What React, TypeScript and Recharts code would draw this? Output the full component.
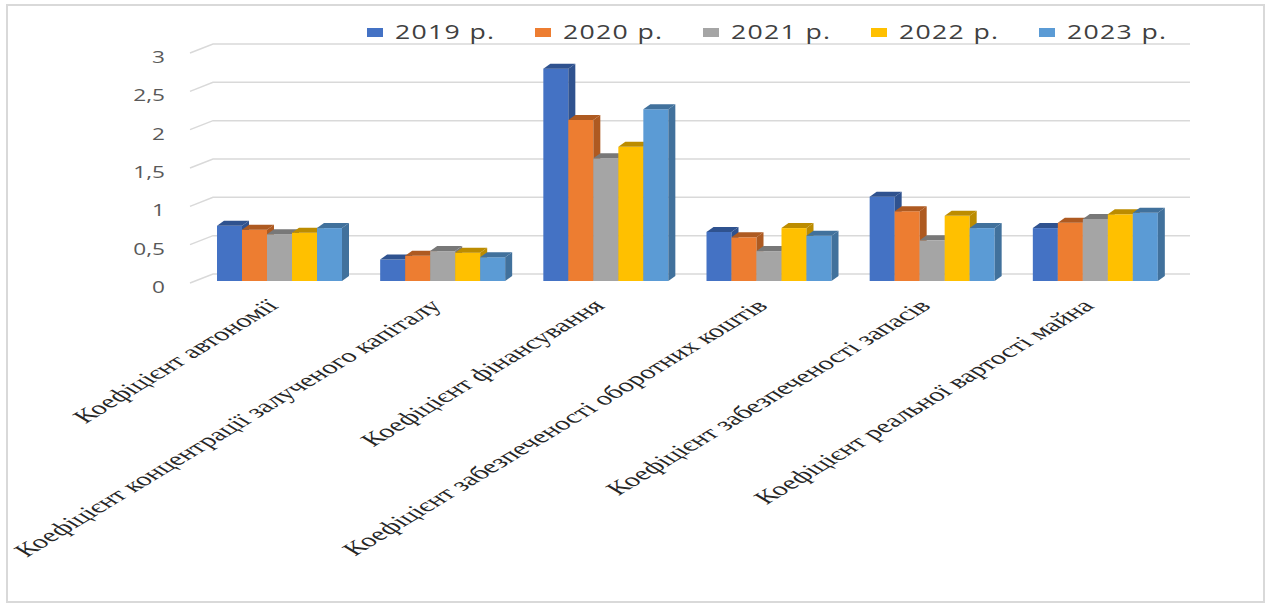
import React from "react";
import { BarChart, Bar, XAxis, YAxis, CartesianGrid, Legend } from "recharts";

// категорії та значення, зчитані з діаграми
const categories = [
  "Коефіцієнт  автономії",
  "Коефіцієнт  концентрації залученого капіталу",
  "Коефіцієнт  фінансування",
  "Коефіцієнт  забезпеченості оборотних коштів",
  "Коефіцієнт  забезпеченості запасів",
  "Коефіцієнт  реальної вартості майна",
];

const y2019 = [0.72, 0.28, 2.77, 0.64, 1.1, 0.69];
const y2020 = [0.67, 0.33, 2.1, 0.57, 0.91, 0.76];
const y2021 = [0.61, 0.39, 1.6, 0.39, 0.53, 0.81];
const y2022 = [0.63, 0.37, 1.75, 0.69, 0.85, 0.87];
const y2023 = [0.69, 0.31, 2.24, 0.59, 0.69, 0.89];

const yTicks = [0, 0.5, 1, 1.5, 2, 2.5, 3];

const series = [
  { key: "y2019", name: "2019 р.", values: y2019, color: "#4472C4", dark: "#2F528F" },
  { key: "y2020", name: "2020 р.", values: y2020, color: "#ED7D31", dark: "#AE5A21" },
  { key: "y2021", name: "2021 р.", values: y2021, color: "#A5A5A5", dark: "#787878" },
  { key: "y2022", name: "2022 р.", values: y2022, color: "#FFC000", dark: "#BC8C00" },
  { key: "y2023", name: "2023 р.", values: y2023, color: "#5B9BD5", dark: "#41719C" },
];

const data = categories.map((name, i) => {
  const row: Record<string, string | number> = { name };
  series.forEach((s) => (row[s.key] = s.values[i]));
  return row;
});

// the source picture is stretched sideways, text follows it
const STRETCH = 1.33;
const LABEL_STRETCH = 1.66;
const DEPTH_X = 7;
const DEPTH_Y = 5;

const Bar3D = (props: any) => {
  const { x, y, width, height, fill, dark } = props;
  if (height == null || height <= 0) return null;
  const r = x + width;
  const b = y + height;
  return (
    <g>
      <rect x={x} y={y} width={width} height={height} fill={fill} />
      <polygon
        points={`${r},${y} ${r + DEPTH_X},${y - DEPTH_Y} ${r + DEPTH_X},${b - DEPTH_Y} ${r},${b}`}
        fill={dark}
      />
      <polygon
        points={`${x},${y} ${x + DEPTH_X},${y - DEPTH_Y} ${r + DEPTH_X},${y - DEPTH_Y} ${r},${y}`}
        fill={dark}
      />
    </g>
  );
};

const GridLine = (p: any) => {
  const { x1, x2, y1 } = p;
  return (
    <path
      key={`grid-${p.index}`}
      d={`M${x1 - 8},${y1 + 2} L${x1 + 15},${y1 - 7} L${x2 + 13},${y1 - 7}`}
      stroke="#d9d9d9"
      strokeWidth={1.5}
      fill="none"
    />
  );
};

const YTick = ({ x, y, payload }: any) => (
  <text
    transform={`translate(${x},${y + 12}) scale(${STRETCH},1)`}
    textAnchor="end"
    fontFamily="'Open Sans', sans-serif"
    fontSize={17}
    fill="#595959"
  >
    {String(payload.value).replace(".", ",")}
  </text>
);

const XTick = ({ x, y, payload }: any) => (
  <g transform={`translate(${x},${y + 26}) scale(${LABEL_STRETCH},1) rotate(-45)`}>
    <text
      textAnchor="end"
      fontFamily="'Liberation Serif', 'Times New Roman', serif"
      fontSize={18.4}
      fill="#262626"
    >
      {payload.value}
    </text>
  </g>
);

const LegendContent = () => (
  <div style={{ display: "flex" }}>
    {series.map((s) => (
      <div key={s.key} style={{ width: 168, display: "flex", alignItems: "center" }}>
        <span
          style={{ width: 16, height: 9, background: s.color, display: "inline-block", marginRight: 12 }}
        />
        <span
          style={{
            display: "inline-block",
            fontFamily: "'Open Sans', sans-serif",
            fontSize: 20,
            letterSpacing: 1,
            lineHeight: 1,
            color: "#404040",
            whiteSpace: "nowrap",
            transform: `scaleX(${STRETCH})`,
            transformOrigin: "left center",
          }}
        >
          {s.name}
        </span>
      </div>
    ))}
  </div>
);

export default function App() {
  return (
    <div style={{ position: "absolute", left: 0, top: 0, width: 1270, height: 603, background: "#fff" }}>
      <div
        style={{
          position: "absolute",
          left: 6,
          top: 4,
          width: 1255,
          height: 595,
          border: "2px solid #d9d9d9",
        }}
      />
      <BarChart
        width={1270}
        height={603}
        data={data}
        margin={{ top: 51, right: 93, left: 138, bottom: 22 }}
        barGap={0}
        style={{ position: "absolute", left: 0, top: 0 }}
      >
        <CartesianGrid vertical={false} horizontal={GridLine} />
        <XAxis
          dataKey="name"
          axisLine={false}
          tickLine={false}
          tickSize={0}
          tickMargin={0}
          height={300}
          interval={0}
          tick={<XTick />}
        />
        <YAxis
          domain={[0, 3]}
          ticks={yTicks}
          axisLine={false}
          tickLine={false}
          tickSize={0}
          tickMargin={33}
          width={60}
          tick={<YTick />}
        />
        <Legend
          verticalAlign="middle"
          content={<LegendContent />}
          wrapperStyle={{ top: 22, left: 367, width: 860, height: 24 }}
        />
        {series.map((s) => (
          <Bar
            key={s.key}
            dataKey={s.key}
            name={s.name}
            fill={s.color}
            barSize={25}
            isAnimationActive={false}
            shape={(p: any) => <Bar3D {...p} dark={s.dark} />}
          />
        ))}
      </BarChart>
    </div>
  );
}
